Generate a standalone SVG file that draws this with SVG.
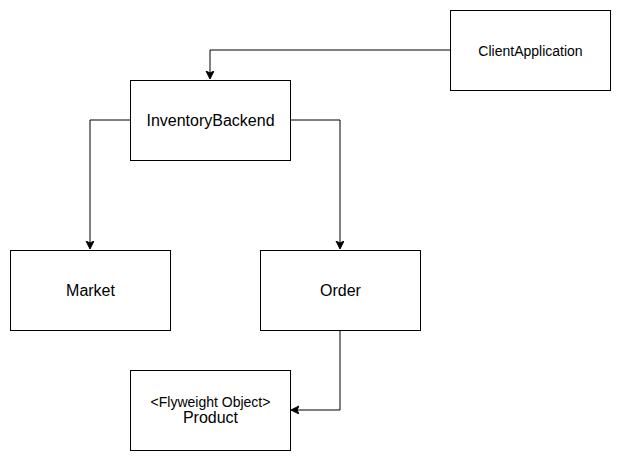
<svg xmlns="http://www.w3.org/2000/svg" width="621" height="461" viewBox="0 0 621 461">
<style>
.box{fill:#fff;stroke:#000;stroke-width:1}
.t{font-family:"Liberation Sans",Arial,sans-serif;fill:#000;text-anchor:middle;dominant-baseline:central}
.edge{fill:none;stroke:#000;stroke-width:1}
</style>
<defs>
<marker id="arr" markerWidth="10" markerHeight="10" refX="7" refY="4" orient="auto" markerUnits="userSpaceOnUse">
<path d="M0,0 L8,4 L0,8 L2,4 Z" fill="#000" stroke="#000" stroke-width="1"/>
</marker>
</defs>
<rect width="621" height="461" fill="#fff"/>
<g id="edges">
<path class="edge" d="M450,50 H210 V78" marker-end="url(#arr)"/>
<path class="edge" d="M130,120 H90 V248" marker-end="url(#arr)"/>
<path class="edge" d="M290,120 H340 V248" marker-end="url(#arr)"/>
<path class="edge" d="M340,330 V410 H292" marker-end="url(#arr)"/>
</g>
<g id="ClientApplication">
<rect class="box" x="450.5" y="10.5" width="160" height="80"/>
<text class="t" x="530.5" y="50.5" font-size="14">ClientApplication</text>
</g>
<g id="InventoryBackend">
<rect class="box" x="130.5" y="80.5" width="160" height="80"/>
<text class="t" x="210.5" y="120" font-size="16">InventoryBackend</text>
</g>
<g id="Market">
<rect class="box" x="10.5" y="250.5" width="160" height="80"/>
<text class="t" x="90.5" y="290" font-size="16">Market</text>
</g>
<g id="Order">
<rect class="box" x="260.5" y="250.5" width="160" height="80"/>
<text class="t" x="340.5" y="290" font-size="16">Order</text>
</g>
<g id="Product">
<rect class="box" x="130.5" y="370.5" width="160" height="80"/>
<text class="t" x="210.5" y="402" font-size="14">&lt;Flyweight Object&gt;</text>
<text class="t" x="210.5" y="417.5" font-size="16">Product</text>
</g>
</svg>
